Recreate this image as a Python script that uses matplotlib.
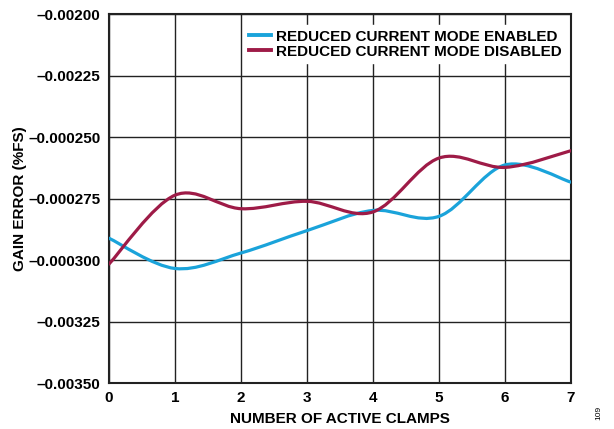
import matplotlib
import matplotlib.pyplot as plt
from matplotlib.path import Path
from matplotlib.patches import PathPatch
matplotlib.use('Agg')

clamps = [0, 1, 2, 3, 4, 5, 6, 7]
enabled = [-0.002911, -0.003034, -0.002971, -0.002880, -0.002798, -0.002822, -0.002613, -0.002683]
disabled = [-0.003016, -0.002736, -0.002791, -0.002761, -0.002804, -0.002585, -0.002623, -0.002555]
y_ticks = [-0.00350, -0.00325, -0.00300, -0.00275, -0.00250, -0.00225, -0.00200]
y_labels = ["–0.00350", "–0.00325", "–0.000300", "–0.000275", "–0.000250", "–0.00225", "–0.00200"]
series_names = ["REDUCED CURRENT MODE ENABLED", "REDUCED CURRENT MODE DISABLED"]
colors = ['#1aa3da', '#9e1b47']

plt.rcParams['font.family'] = ['Liberation Sans', 'DejaVu Sans']
plt.rcParams['font.weight'] = 'bold'


def smooth_path(xs, ys):
    # Catmull-Rom style bezier through the points (like a spreadsheet "smoothed line")
    pts = list(zip(xs, ys))
    verts = [pts[0]]
    codes = [Path.MOVETO]
    n = len(pts)
    for i in range(n - 1):
        p0 = pts[i - 1] if i > 0 else pts[i]
        p1 = pts[i]
        p2 = pts[i + 1]
        p3 = pts[i + 2] if i + 2 < n else pts[i + 1]
        c1 = (p1[0] + (p2[0] - p0[0]) / 6, p1[1] + (p2[1] - p0[1]) / 6)
        c2 = (p2[0] - (p3[0] - p1[0]) / 6, p2[1] - (p3[1] - p1[1]) / 6)
        verts += [c1, c2, p2]
        codes += [Path.CURVE4] * 3
    return Path(verts, codes)


fig = plt.figure(figsize=(6.14, 4.29), dpi=100)
ax = fig.add_axes([0.1775, 0.107, 0.7525, 0.860])

for ys, c, name in zip([enabled, disabled], colors, series_names):
    patch = PathPatch(smooth_path(clamps, ys), facecolor='none', edgecolor=c,
                      lw=2.3, zorder=3, capstyle='round')
    ax.add_patch(patch)
    ax.plot([], [], color=c, lw=2.8, label=name)

ax.set_xlim(0, 7)
ax.set_ylim(-0.00350, -0.00200)
ax.set_xticks(clamps)
ax.set_yticks(y_ticks)
ax.set_yticklabels(y_labels)
ax.tick_params(length=0, labelsize=11, pad=6)
for lab in ax.get_xticklabels() + ax.get_yticklabels():
    lab.set_fontweight('bold')
ax.grid(True, color='#222222', lw=1.0)
ax.set_axisbelow(True)
for s in ax.spines.values():
    s.set_linewidth(1.5)
    s.set_color('#222222')

ax.set_xlabel("NUMBER OF ACTIVE CLAMPS", fontsize=11, fontweight='bold', labelpad=5)
ax.set_ylabel("GAIN ERROR (%FS)", fontsize=11, fontweight='bold', labelpad=1)

leg = ax.legend(loc='upper right', bbox_to_anchor=(0.99, 0.97), frameon=True,
                fancybox=False, edgecolor='white', framealpha=1, fontsize=11,
                handlelength=1.5, handletextpad=0.3, borderpad=0.3,
                labelspacing=0.05, borderaxespad=0.0)
for t in leg.get_texts():
    t.set_fontweight('bold')

fig.text(0.975, 0.02, "109", rotation=90, fontsize=6, fontweight='normal',
         ha='center', va='bottom')

plt.savefig("out.png", dpi=100)
plt.close()
